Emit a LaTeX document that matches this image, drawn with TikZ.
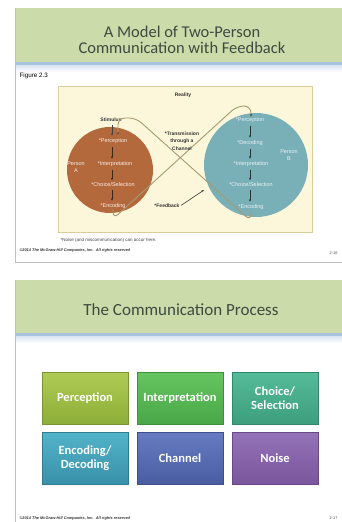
\documentclass[tikz,border=0pt]{standalone}
\usepackage{fontspec}
\setmainfont{Carlito}
\newfontfamily\figfont{Liberation Sans}
\usetikzlibrary{arrows.meta}
\definecolor{head}{HTML}{CCDBAA}
\definecolor{titletext}{HTML}{3D4B40}
\definecolor{rulebl}{HTML}{A9C3DE}
\definecolor{reality}{HTML}{FCF7DA}
\definecolor{realityedge}{HTML}{D8CD9C}
\definecolor{persA}{HTML}{B4693D}
\definecolor{persB}{HTML}{79AFB7}
\definecolor{loopc}{HTML}{A89A70}
\definecolor{perc1}{HTML}{AECB55}
\definecolor{perc2}{HTML}{8DAE38}
\definecolor{intp1}{HTML}{66C561}
\definecolor{intp2}{HTML}{49A747}
\definecolor{chc1}{HTML}{55BB98}
\definecolor{chc2}{HTML}{3C9E7D}
\definecolor{enc1}{HTML}{52B3C9}
\definecolor{enc2}{HTML}{3891A9}
\definecolor{chn1}{HTML}{667BC1}
\definecolor{chn2}{HTML}{4A5DA3}
\definecolor{noi1}{HTML}{9573B8}
\definecolor{noi2}{HTML}{7A569C}

\tikzset{
  slidetitle/.style={text=titletext, align=center, font=\fontsize{16.5}{16.5}\selectfont},
  figtext/.style={font=\figfont\fontsize{5.5}{7.3}\selectfont, inner sep=0.5pt},
  intext/.style={figtext, text=#1},
  darktext/.style={figtext, text=black!80, align=center},
  inarrow/.style={-{Stealth[length=2.6pt,width=2.2pt]}, line width=0.7pt, draw=#1,
    shorten <=2.5pt, shorten >=2pt},
  loopline/.style={draw=loopc, line width=0.9pt, rounded corners=7},
  tile/.style 2 args={minimum width=86pt, minimum height=52pt, top color=#1, bottom color=#2,
    draw=#2!85!black, line width=0.4pt, text=white, align=center,
    font=\bfseries\fontsize{12.5}{14}\selectfont},
  smallprint/.style={anchor=west, font=\figfont\bfseries\itshape\fontsize{3.9}{4}\selectfont, text=black!80}
}

\begin{document}
\begin{tikzpicture}[x=1pt, y=-1pt]
\useasboundingbox (0,0) rectangle (342,522);

% first slide
\fill[head] (15,8) rectangle (342,62);
\fill[rulebl] (15,62) rectangle (342,65);
\shade[top color=rulebl!45, bottom color=white] (15,65) rectangle (342,72);
\draw[black!25, line width=0.5pt] (15,8) -- (15,262) -- (342,262);
\node[slidetitle] (title1) at (182,40) {A Model of Two-Person\\Communication with Feedback};
\node[anchor=west, font=\figfont\fontsize{6.3}{7}\selectfont] (fig) at (16,76) {Figure 2.3};

\filldraw[fill=reality, draw=realityedge, line width=0.6pt] (58,86) rectangle (312,232);
\node[darktext, font=\figfont\bfseries\fontsize{5}{6}\selectfont] (real) at (183,95) {Reality};

\node[circle, fill=persA, minimum size=86pt, inner sep=0pt] (pa) at (110,170) {};
\node[circle, fill=persB, minimum size=104pt, inner sep=0pt] (pb) at (256,165) {};

\node[darktext, font=\figfont\bfseries\fontsize{5}{6}\selectfont] (stim) at (111,120) {Stimulus};
\node[intext=persA!12] (a1) at (113,141) {*Perception};
\node[intext=persA!12] (a2) at (115,164) {*Interpretation};
\node[intext=persA!12] (a3) at (113,185) {*Choice/Selection};
\node[intext=persA!12] (a4) at (113,206) {*Encoding};
\node[intext=persA!12, align=center] (pA) at (76,167) {Person\\A};

\node[intext=persB!15] (b1) at (250,120) {*Perception};
\node[intext=persB!15] (b2) at (250,143) {*Decoding};
\node[intext=persB!15] (b3) at (251,164) {*Interpretation};
\node[intext=persB!15] (b4) at (251,185) {*Choice/Selection};
\node[intext=persB!15] (b5) at (251,207) {*Encoding};
\node[intext=persB!15, align=center] (pB) at (289,155) {Person\\B};

\draw[inarrow=black!75] (stim.south -| 112,0) -- (a1.north -| 112,0);
\foreach \u/\v in {a1/a2,a2/a3,a3/a4}
  \draw[inarrow=persA!35!black] (\u.south -| 112,0) -- (\v.north -| 112,0);
\foreach \u/\v in {b1/b2,b2/b3,b3/b4,b4/b5}
  \draw[inarrow=persB!30!black] (\u.south -| 250,0) -- (\v.north -| 250,0);

\coordinate (lbot) at (113,219);
\coordinate (rtop) at (237,106);
\coordinate (rtop2) at (251,106);
\coordinate (rbot) at (251,221);
\coordinate (ltop) at (136,118);
\coordinate (ltop2) at (118,118);
\coordinate (ain) at (118,135);

\draw[loopline, -{Stealth[length=3pt,width=2.4pt,color=black!70]}]
  (a4.south) -- (lbot) -- (rtop) -- (rtop2) -- (b1.north -| rtop2);
\draw[loopline, -{Stealth[length=3pt,width=2.4pt,color=black!70]}]
  (b5.south) -- (rbot) -- (ltop) -- (ltop2) -- (ain);

\node[darktext, font=\figfont\bfseries\fontsize{5}{7.4}\selectfont] (trans) at (182,141)
  {*Transmission\\through a\\Channel};
\node[darktext, font=\figfont\bfseries\fontsize{5}{6}\selectfont] (fb) at (167,206) {*Feedback};
\coordinate (fbtip) at (204,190);
\draw[inarrow=black!70, shorten <=1pt, shorten >=0pt] (fb.east) -- (fbtip);

\node[anchor=west, font=\figfont\fontsize{4.5}{5}\selectfont, text=black!75] (note) at (57,240)
  {*Noise (and miscommunication) can occur here.};
\node[smallprint] (copy1) at (16,250) {\textcopyright2014 The McGraw-Hill Companies, Inc.\ \ All rights reserved};
\node[anchor=east, font=\figfont\fontsize{3.9}{4}\selectfont, text=black!70] (pg1) at (341,253) {2-16};

% second slide
\fill[head] (15,280) rectangle (342,333);
\fill[rulebl] (15,333) rectangle (342,336);
\shade[top color=rulebl!45, bottom color=white] (15,336) rectangle (342,343);
\draw[black!25, line width=0.5pt] (15,280) -- (15,522);
\node[slidetitle, font=\fontsize{17}{17}\selectfont] (title2) at (181,310) {The Communication Process};

\node[tile={perc1}{perc2}] (perc) at (85,398) {Perception};
\node[tile={intp1}{intp2}] (intp) at (180,398) {Interpretation};
\node[tile={chc1}{chc2}] (choice) at (275,398) {Choice/\\Selection};
\node[tile={enc1}{enc2}] (enc) at (85,458) {Encoding/\\Decoding};
\node[tile={chn1}{chn2}] (chan) at (180,458) {Channel};
\node[tile={noi1}{noi2}] (noise) at (275,458) {Noise};

\node[smallprint] (copy2) at (16,518) {\textcopyright2014 The McGraw-Hill Companies, Inc.\ \ All rights reserved};
\node[anchor=east, font=\figfont\fontsize{3.9}{4}\selectfont, text=black!70] (pg2) at (341,518) {2-17};
\end{tikzpicture}
\end{document}
